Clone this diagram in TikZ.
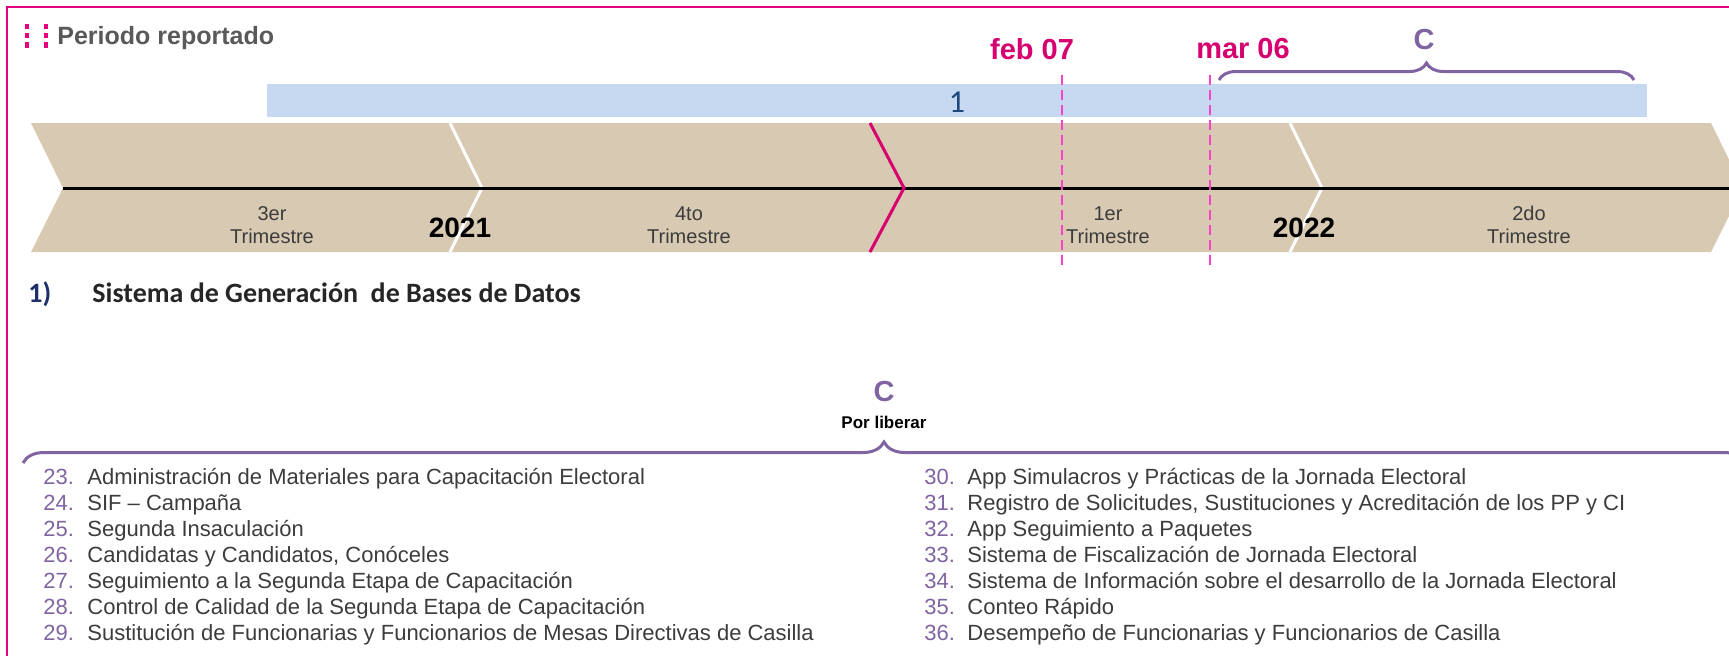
\documentclass[tikz,border=0pt]{standalone}
\usepackage{fontspec}
\setmainfont{Liberation Sans}
\newfontfamily\calibri{Carlito}
\usetikzlibrary{decorations.pathreplacing}
\definecolor{framepink}{HTML}{E6007E}
\definecolor{datepink}{HTML}{D6006E}
\definecolor{dashpink}{HTML}{FF40C8}
\definecolor{tan}{HTML}{D8C9B2}
\definecolor{barblue}{HTML}{C6D9F0}
\definecolor{barnavy}{HTML}{1F497D}
\definecolor{headnavy}{HTML}{1F2F6B}
\definecolor{setpurple}{HTML}{8064A2}
\definecolor{textgray}{HTML}{3C3C3C}
\tikzset{
    quarter/.style={inner sep=0pt, align=center, text=textgray, font=\fontsize{10}{11.5}\selectfont},
    yearlbl/.style={inner sep=0pt, font=\bfseries\fontsize{14}{16}\selectfont},
    datelbl/.style={inner sep=0pt, text=datepink, font=\bfseries\fontsize{14.5}{16}\selectfont},
    cutline/.style={draw=dashpink, line width=1pt, dash pattern=on 5pt off 2.5pt},
    setbrace/.style={draw=setpurple, line width=1.5pt, decorate, decoration={brace, amplitude=#1}},
    setlbl/.style={inner sep=0pt, text=setpurple, font=\bfseries\fontsize{14.5}{16}\selectfont},
    itemno/.style={anchor=base west, inner sep=0pt, text=setpurple, font=\fontsize{11}{13}\selectfont},
    itemtxt/.style={anchor=base west, inner sep=0pt, text=textgray, font=\fontsize{11}{13}\selectfont},
}

\begin{document}
\begin{tikzpicture}[x=0.5pt, y=-0.5pt]
    \useasboundingbox (0,0) rectangle (1729,655);
    \clip (0,0) rectangle (1729,655);
    % frame and title
    \draw[framepink, line width=1pt] (7,7) rectangle (1760,700);
    \draw[framepink, line width=2pt, dash pattern=on 2.6pt off 2pt] (27,24) -- (27,48) (46,24) -- (46,48);
    \node[anchor=base west, inner sep=0pt, text=black!65, font=\bfseries\fontsize{12.5}{14}\selectfont] (periodo) at (57,44) {Periodo reportado};
    % bar of system 1
    \fill[barblue] (267,84) rectangle (1647,117);
    \node[inner sep=0pt, text=barnavy, font=\calibri\fontsize{16}{18}\selectfont] (bar1) at (957,102) {1};
    % timeline
    \fill[tan] (31,123) -- (1711,123) -- (1743,188) -- (1711,252) -- (31,252) -- (63,188) -- cycle;
    \foreach \x in {450,1290}
        \draw[white, line width=1.5pt] (\x,123) -- ++(32,65) -- ++(-32,64);
    \draw[black, line width=1.5pt] (63,188) -- (1743,188);
    \draw[datepink, line width=1.5pt] (870,123) -- (904,188) -- (870,252);
    \node[quarter] (q3) at (272,225) {3er\\Trimestre};
    \node[quarter] (q4) at (689,225) {4to\\Trimestre};
    \node[quarter] (q1) at (1108,225) {1er\\Trimestre};
    \node[quarter] (q2) at (1529,225) {2do\\Trimestre};
    \node[yearlbl] (y2021) at (460,228) {2021};
    \node[yearlbl] (y2022) at (1304,228) {2022};
    % cut dates
    \node[datelbl] (feb) at (1032,49) {feb 07};
    \node[datelbl] (mar) at (1243,49) {mar 06};
    \draw[cutline] (1062,75) -- (1062,268);
    \draw[cutline] (1210,75) -- (1210,268);
    % upper brace
    \draw[setbrace=8.5pt] (1219,80) -- (1634,80);
    \node[setlbl] (cup) at (1424,40) {C};
    % section heading
    \node[anchor=base west, inner sep=0pt, text=headnavy, font=\calibri\bfseries\fontsize{14}{16}\selectfont] (sec1) at (28,302) {1)};
    \node[anchor=base west, inner sep=0pt, text=black!85, font=\calibri\bfseries\fontsize{14}{16}\selectfont] (sectitle) at (92,302) {Sistema de Generación\ \ de Bases de Datos};
    % lower brace
    \node[setlbl] (cdown) at (884,392) {C};
    \node[inner sep=0pt, font=\bfseries\fontsize{8.5}{10}\selectfont] (porlib) at (884,422) {Por liberar};
    \draw[setbrace=10.5pt] (23,463) -- (1745,463);
    % systems list
    \foreach \n/\txt [count=\i from 0] in {23/Administración de Materiales para Capacitación Electoral, 24/SIF – Campaña, 25/Segunda Insaculación, 26/{Candidatas y Candidatos, Conóceles}, 27/Seguimiento a la Segunda Etapa de Capacitación, 28/Control de Calidad de la Segunda Etapa de Capacitación, 29/Sustitución de Funcionarias y Funcionarios de Mesas Directivas de Casilla} {
        \node[itemno] (n\n) at (43,484+26*\i) {\n.};
        \node[itemtxt] (t\n) at (87,484+26*\i) {\txt};
    }
    \foreach \n/\txt [count=\i from 0] in {30/App Simulacros y Prácticas de la Jornada Electoral, 31/{Registro de Solicitudes, Sustituciones y Acreditación de los PP y CI}, 32/App Seguimiento a Paquetes, 33/Sistema de Fiscalización de Jornada Electoral, 34/Sistema de Información sobre el desarrollo de la Jornada Electoral, 35/Conteo Rápido, 36/Desempeño de Funcionarias y Funcionarios de Casilla} {
        \node[itemno] (n\n) at (924,484+26*\i) {\n.};
        \node[itemtxt] (t\n) at (967,484+26*\i) {\txt};
    }
\end{tikzpicture}
\end{document}
